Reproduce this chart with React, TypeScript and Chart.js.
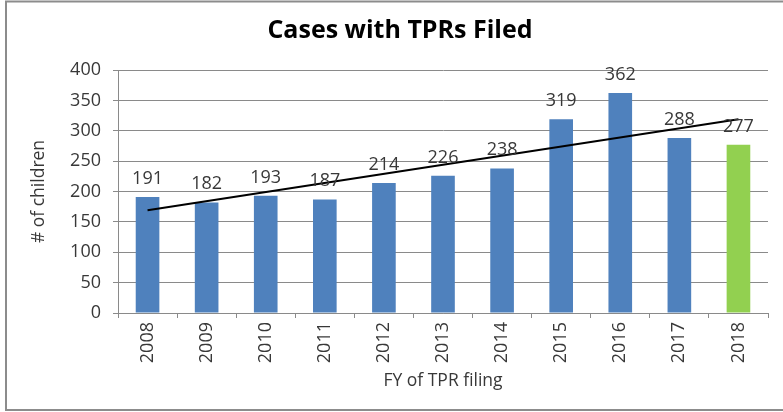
import React, { useEffect, useRef } from 'react';
import { Chart, registerables } from 'chart.js';

Chart.register(...registerables);

const years = ['2008', '2009', '2010', '2011', '2012', '2013', '2014', '2015', '2016', '2017', '2018'];
const cases = [191, 182, 193, 187, 214, 226, 238, 319, 362, 288, 277];
const barColors = ['#4F81BD', '#4F81BD', '#4F81BD', '#4F81BD', '#4F81BD', '#4F81BD', '#4F81BD', '#4F81BD', '#4F81BD', '#4F81BD', '#92D050'];
const trendValues: (number | null)[] = [169, null, null, null, null, null, null, null, null, null, 319];
const yMin = 0;
const yMax = 400;
const yStep = 50;

const chartTitle = 'Cases with TPRs Filed';
const xTitle = 'FY of TPR filing';
const yTitle = '# of children';

const FONT = '"Open Sans", Lato, sans-serif';
const TEXT = '#383838';
const GRID = '#8a8a8a';

export default function App() {
  const ref = useRef<HTMLCanvasElement>(null);

  useEffect(() => {
    if (!ref.current) return;

    const framePlugin = {
      id: 'frame',
      beforeDraw(chart: any) {
        const { ctx, width, height } = chart;
        ctx.save();
        ctx.fillStyle = '#ffffff';
        ctx.fillRect(0, 0, width, height);
        ctx.restore();
      },
      afterDraw(chart: any) {
        const { ctx, width } = chart;
        ctx.save();
        ctx.strokeStyle = '#8c8c8c';
        ctx.lineWidth = 2;
        ctx.beginPath();
        ctx.moveTo(width + 5, 1.5);
        ctx.lineTo(6, 1.5);
        ctx.lineTo(6, 410);
        ctx.lineTo(width + 5, 410);
        ctx.stroke();
        ctx.fillStyle = '#000000';
        ctx.font = `bold 25px ${FONT}`;
        ctx.textAlign = 'center';
        ctx.textBaseline = 'middle';
        ctx.fillText(chartTitle, 400, 31);
        ctx.restore();
      },
    };

    const valueLabels = {
      id: 'valueLabels',
      afterDatasetsDraw(chart: any) {
        const { ctx } = chart;
        const idx = chart.data.datasets.findIndex((d: any) => d.type !== 'line');
        const meta = chart.getDatasetMeta(idx);
        ctx.save();
        ctx.fillStyle = TEXT;
        ctx.font = `18px ${FONT}`;
        ctx.textAlign = 'center';
        ctx.textBaseline = 'alphabetic';
        meta.data.forEach((el: any, i: number) => {
          ctx.fillText(String(cases[i]), el.x, el.y - 13);
        });
        ctx.restore();
      },
    };

    const chart = new Chart(ref.current, {
      type: 'bar',
      data: {
        labels: years,
        datasets: [
          {
            type: 'line',
            data: trendValues,
            borderColor: '#000000',
            borderWidth: 2,
            pointRadius: 0,
            spanGaps: true,
            fill: false,
            order: 0,
          } as any,
          {
            type: 'bar',
            data: cases,
            backgroundColor: barColors,
            barPercentage: 0.4,
            categoryPercentage: 1.0,
            order: 1,
          },
        ],
      },
      options: {
        responsive: false,
        devicePixelRatio: 1,
        animation: false,
        layout: { padding: { top: 70, right: 15, bottom: 0, left: 0 } },
        plugins: {
          legend: { display: false },
          tooltip: { enabled: false },
          title: { display: false },
        },
        scales: {
          x: {
            grid: { display: true, drawOnChartArea: false, drawTicks: true, tickLength: 5, color: GRID, offset: true },
            border: { color: GRID, width: 1 },
            ticks: { minRotation: 90, maxRotation: 90, autoSkip: false, color: TEXT, font: { family: FONT, size: 18 }, padding: 4 },
            title: { display: true, text: xTitle, color: TEXT, font: { family: FONT, size: 17.5 }, padding: { top: 0, bottom: 20 } },
            afterFit: (s: any) => { s.height = 99; },
          },
          y: {
            min: yMin,
            max: yMax,
            grid: { color: GRID, tickLength: 5 },
            border: { color: GRID, width: 1 },
            ticks: { stepSize: yStep, color: TEXT, font: { family: FONT, size: 18 }, padding: 12 },
            title: { display: true, text: yTitle, color: TEXT, font: { family: FONT, size: 17.5 }, padding: { top: 29, bottom: 0 } },
            afterFit: (s: any) => { s.width = 118; },
          },
        },
      },
      plugins: [framePlugin, valueLabels],
    });

    return () => chart.destroy();
  }, []);

  return (
    <div style={{ position: 'absolute', left: 0, top: 0, width: 783, height: 412 }}>
      <canvas ref={ref} width={783} height={412} style={{ display: 'block' }} />
    </div>
  );
}
